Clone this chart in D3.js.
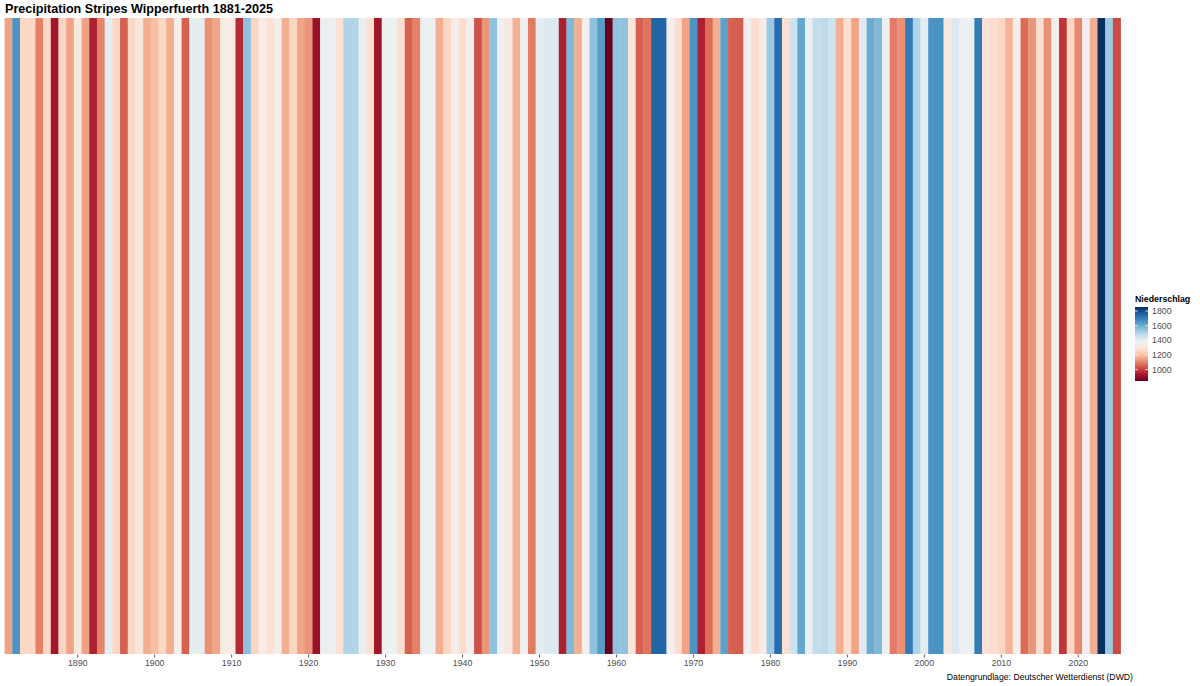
<!DOCTYPE html>
<html>
<head>
<meta charset="utf-8">
<script src="https://cdn.jsdelivr.net/npm/d3@7"></script>
<style>
  html, body { margin: 0; padding: 0; background: #fff; }
  svg { display: block; }
  text { font-family: "Liberation Sans", Arial, sans-serif; }
</style>
</head>
<body>
<svg id="chart" width="1200" height="686"></svg>
<script>
const years = d3.range(1881, 2026);
const precipitation = [
  1148, 1653, 1249, 1255, 1098, 1250, 926, 1245, 1150, 1300,
  1145, 946, 1100, 1400, 1250, 1047, 1252, 1295, 1168, 1198,
  1250, 1165, 1330, 1047, 1400, 1395, 1118, 1150, 1320, 1318,
  966, 1552, 1250, 1322, 1280, 1330, 1168, 1250, 1150, 1128,
  916, 1380, 1370, 1280, 1502, 1500, 1372, 1278, 926, 1370,
  1360, 1269, 1047, 1098, 1372, 1368, 1168, 1249, 1330, 1269,
  1350, 1027, 1128, 1552, 1350, 1300, 1168, 1370, 1087, 1400,
  1421, 1418, 946, 1572, 1168, 1350, 1552, 1633, 845, 1552,
  1550, 1289, 1047, 1077, 1754, 1750, 1350, 1269, 1148, 1653,
  946, 1067, 1168, 1623, 1047, 1045, 1350, 1269, 1320, 1532,
  1734, 1269, 1451, 1613, 1380, 1471, 1481, 1451, 1168, 1269,
  1148, 1411, 1603, 1572, 1370, 1087, 1118, 1704, 1502, 1400,
  1653, 1655, 1300, 1421, 1370, 1372, 1704, 1279, 1269, 1249,
  1178, 1350, 1067, 1128, 1269, 1118, 1350, 986, 1249, 1108,
  1350, 1168, 1855, 1532, 1017
];
const xTicks = [1890, 1900, 1910, 1920, 1930, 1940, 1950, 1960, 1970, 1980, 1990, 2000, 2010, 2020];
const legendTicks = [1000, 1200, 1400, 1600, 1800];
const titleText = "Precipitation Stripes Wipperfuerth 1881-2025";
const captionText = "Datengrundlage: Deutscher Wetterdienst (DWD)";
const legendTitle = "Niederschlag";

const data = years.map((y, i) => ({ year: y, value: precipitation[i] }));

const svg = d3.select("#chart");
const plot = { left: 4.6, right: 1120.6, top: 18, bottom: 654 };

const x = d3.scaleBand().domain(years).range([plot.left, plot.right]).padding(0);
const ext = d3.extent(precipitation);
const color = d3.scaleSequential(d3.interpolateRdBu).domain(ext);

// stripes
svg.append("g").selectAll("rect").data(data).join("rect")
  .attr("x", d => x(d.year))
  .attr("y", plot.top)
  .attr("width", x.bandwidth() + 0.3)
  .attr("height", plot.bottom - plot.top)
  .attr("fill", d => color(d.value));

// x axis
const xAxis = d3.axisBottom(x).tickValues(xTicks).tickSize(3).tickPadding(2);
const gx = svg.append("g").attr("transform", `translate(0,${plot.bottom + 0.5})`).call(xAxis);
gx.select(".domain").remove();
gx.selectAll(".tick line").attr("stroke", "#333").attr("stroke-width", 0.8);
gx.selectAll(".tick text").attr("fill", "#4d4d4d").style("font-size", "8.8px")
  .style("font-family", "'Liberation Sans', Arial, sans-serif");

// title
svg.append("text").attr("x", 5).attr("y", 13)
  .style("font-size", "12.6px").style("font-weight", "bold").attr("fill", "#000")
  .text(titleText);

// caption
svg.append("text").attr("x", 1133).attr("y", 680).attr("text-anchor", "end")
  .style("font-size", "8.7px").attr("fill", "#000")
  .text(captionText);

// legend
const leg = { x: 1135, w: 13, top: 307, bottom: 381 };
const ly = d3.scaleLinear().domain(ext).range([leg.bottom, leg.top]);
const defs = svg.append("defs");
const grad = defs.append("linearGradient").attr("id", "lg")
  .attr("x1", "0").attr("y1", "1").attr("x2", "0").attr("y2", "0");
d3.range(0, 1.0001, 0.05).forEach(t => {
  grad.append("stop").attr("offset", t).attr("stop-color", color(ext[0] + t * (ext[1] - ext[0])));
});
svg.append("text").attr("x", leg.x).attr("y", 302)
  .style("font-size", "8.8px").style("font-weight", "bold").attr("fill", "#000")
  .text(legendTitle);
svg.append("rect").attr("x", leg.x).attr("y", leg.top).attr("width", leg.w)
  .attr("height", leg.bottom - leg.top).attr("fill", "url(#lg)");
const lt = svg.append("g").selectAll("g").data(legendTicks).join("g")
  .attr("transform", d => `translate(0,${ly(d)})`);
lt.append("line").attr("x1", leg.x).attr("x2", leg.x + 2.6).attr("stroke", "#fff").attr("stroke-width", 0.8);
lt.append("line").attr("x1", leg.x + leg.w - 2.6).attr("x2", leg.x + leg.w).attr("stroke", "#fff").attr("stroke-width", 0.8);
lt.append("text").attr("x", leg.x + leg.w + 4).attr("dy", "0.35em")
  .style("font-size", "8.8px").attr("fill", "#4d4d4d").text(d => d);
</script>
</body>
</html>
